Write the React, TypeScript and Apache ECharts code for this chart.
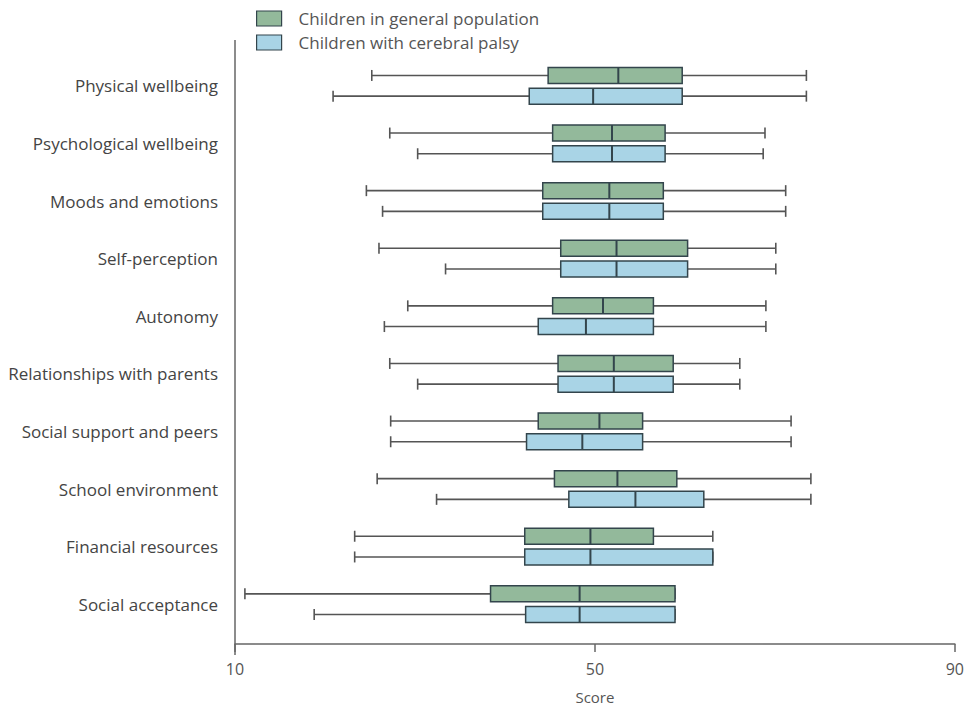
import React, { useEffect, useRef } from "react";
import * as echarts from "echarts";

const categories = [
  "Physical wellbeing",
  "Psychological wellbeing",
  "Moods and emotions",
  "Self-perception",
  "Autonomy",
  "Relationships with parents",
  "Social support and peers",
  "School environment",
  "Financial resources",
  "Social acceptance",
];

// [min, Q1, median, Q3, max]
const generalPopulation = [
  [25.2, 44.8, 52.6, 59.7, 73.5],
  [27.2, 45.3, 51.9, 57.8, 68.9],
  [24.6, 44.2, 51.6, 57.6, 71.2],
  [26.0, 46.2, 52.4, 60.3, 70.1],
  [29.2, 45.3, 50.9, 56.5, 69.0],
  [27.2, 45.9, 52.1, 58.7, 66.1],
  [27.3, 43.7, 50.5, 55.3, 71.8],
  [25.8, 45.5, 52.5, 59.1, 74.0],
  [23.3, 42.2, 49.5, 56.5, 63.1],
  [11.1, 38.4, 48.3, 58.9, 58.9],
];

const cerebralPalsy = [
  [20.9, 42.7, 49.8, 59.7, 73.5],
  [30.3, 45.3, 51.9, 57.8, 68.7],
  [26.4, 44.2, 51.6, 57.6, 71.2],
  [33.4, 46.2, 52.4, 60.3, 70.1],
  [26.6, 43.7, 49.0, 56.5, 69.0],
  [30.3, 45.9, 52.1, 58.7, 66.1],
  [27.3, 42.4, 48.6, 55.3, 71.8],
  [32.4, 47.1, 54.5, 62.1, 74.0],
  [23.3, 42.2, 49.5, 63.1, 63.1],
  [18.8, 42.3, 48.3, 58.9, 58.9],
];

const xTicks = [10, 50, 90];
const seriesNames = ["Children in general population", "Children with cerebral palsy"];

const GREEN = "#93b99b";
const BLUE = "#a9d4e6";
const BORDER = "#33454c";
const WHISKER = "#555555";
const FONT = "'Open Sans', 'Noto Sans', sans-serif";

function makeRender(offset: number, fill: string) {
  return (params: any, api: any) => {
    const cat = api.value(0);
    const pLow = api.coord([api.value(1), cat]);
    const pQ1 = api.coord([api.value(2), cat]);
    const pMed = api.coord([api.value(3), cat]);
    const pQ3 = api.coord([api.value(4), cat]);
    const pHigh = api.coord([api.value(5), cat]);
    const y = pLow[1] + offset;
    const half = 8;
    const cap = 5.5;
    const wStyle = { stroke: WHISKER, lineWidth: 1.6 };
    return {
      type: "group",
      children: [
        { type: "line", shape: { x1: pLow[0], y1: y, x2: pQ1[0], y2: y }, style: wStyle },
        { type: "line", shape: { x1: pQ3[0], y1: y, x2: pHigh[0], y2: y }, style: wStyle },
        { type: "line", shape: { x1: pLow[0], y1: y - cap, x2: pLow[0], y2: y + cap }, style: wStyle },
        { type: "line", shape: { x1: pHigh[0], y1: y - cap, x2: pHigh[0], y2: y + cap }, style: wStyle },
        {
          type: "rect",
          shape: { x: pQ1[0], y: y - half, width: pQ3[0] - pQ1[0], height: half * 2 },
          style: { fill, stroke: BORDER, lineWidth: 1.5 },
        },
        {
          type: "line",
          shape: { x1: pMed[0], y1: y - half, x2: pMed[0], y2: y + half },
          style: { stroke: BORDER, lineWidth: 2 },
        },
      ],
    };
  };
}

export default function App() {
  const ref = useRef<HTMLDivElement>(null);
  useEffect(() => {
    if (!ref.current) return;
    const chart = echarts.init(ref.current, null, { renderer: "svg" });
    const toData = (arr: number[][]) => arr.map((r, i) => [i, ...r]);
    chart.setOption({
      animation: false,
      backgroundColor: "#ffffff",
      textStyle: { fontFamily: FONT },
      legend: {
        orient: "vertical",
        left: 251,
        top: 5,
        itemWidth: 25,
        itemHeight: 15,
        itemGap: 7,
        icon: "rect",
        textStyle: {
          fontSize: 17,
          lineHeight: 15,
          color: "#555",
          fontFamily: FONT,
          padding: [0, 0, 0, 12],
        },
        data: [
          { name: seriesNames[0], itemStyle: { color: GREEN, borderColor: BORDER, borderWidth: 1.2 } },
          { name: seriesNames[1], itemStyle: { color: BLUE, borderColor: BORDER, borderWidth: 1.2 } },
        ],
      },
      grid: { left: 235, right: 11, top: 57, bottom: 73, containLabel: false },
      xAxis: {
        type: "value",
        min: xTicks[0],
        max: xTicks[xTicks.length - 1],
        interval: xTicks[1] - xTicks[0],
        offset: 11,
        axisLine: { show: true, lineStyle: { color: "#666", width: 1.5 } },
        axisTick: { show: true, length: 8, lineStyle: { color: "#666", width: 1.5 } },
        axisLabel: { color: "#555", fontSize: 16, margin: 17, fontFamily: FONT },
        splitLine: { show: false },
        name: "Score",
        nameLocation: "middle",
        nameGap: 45,
        nameTextStyle: { color: "#555", fontSize: 15, fontFamily: FONT },
      },
      yAxis: {
        type: "category",
        data: categories,
        inverse: true,
        axisLine: { show: false },
        axisTick: { show: false },
        axisLabel: { color: "#444", fontSize: 17, margin: 17, fontFamily: FONT },
        splitLine: { show: false },
      },
      graphic: [
        {
          type: "line",
          shape: { x1: 235, y1: 40, x2: 235, y2: 655 },
          style: { stroke: "#666", lineWidth: 1.5 },
          silent: true,
        },
      ],
      series: [
        {
          name: seriesNames[0],
          type: "custom",
          itemStyle: { color: GREEN, borderColor: BORDER },
          encode: { x: [1, 2, 3, 4, 5], y: 0 },
          renderItem: makeRender(-10.35, GREEN),
          data: toData(generalPopulation),
        },
        {
          name: seriesNames[1],
          type: "custom",
          itemStyle: { color: BLUE, borderColor: BORDER },
          encode: { x: [1, 2, 3, 4, 5], y: 0 },
          renderItem: makeRender(10.35, BLUE),
          data: toData(cerebralPalsy),
        },
      ],
    });
    return () => chart.dispose();
  }, []);
  return (
    <div
      ref={ref}
      style={{ position: "fixed", left: 0, top: 0, width: 967, height: 709, background: "#fff" }}
    />
  );
}
